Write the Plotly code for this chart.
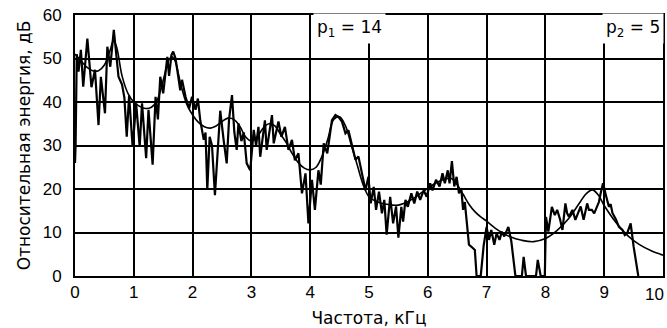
import plotly.graph_objects as go

# Measured short-time spectrum (kHz, dB)
spec_freq = [
    0.00, 0.01, 0.03, 0.06, 0.10, 0.14, 0.21, 0.28, 0.34, 0.40, 0.44, 0.51, 0.55, 0.60,
    0.66, 0.71, 0.74, 0.80, 0.84, 0.88, 0.92, 0.98, 1.04, 1.10, 1.14, 1.21, 1.25, 1.32,
    1.37, 1.41, 1.45, 1.50, 1.57, 1.60, 1.64, 1.67, 1.71, 1.74, 1.79, 1.82, 1.88, 1.94,
    1.99, 2.05, 2.09, 2.13, 2.19, 2.22, 2.25, 2.29, 2.33, 2.38, 2.45, 2.47, 2.53, 2.58,
    2.62, 2.67, 2.71, 2.75, 2.78, 2.83, 2.87, 2.92, 2.98, 3.04, 3.08, 3.12, 3.15, 3.23,
    3.26, 3.35, 3.38, 3.46, 3.51, 3.57, 3.63, 3.69, 3.74, 3.80, 3.86, 3.92, 3.97, 4.03,
    4.08, 4.14, 4.18, 4.23, 4.29, 4.37, 4.43, 4.48, 4.54, 4.60, 4.65, 4.71, 4.77, 4.82,
    4.88, 4.94, 4.99, 5.03, 5.08, 5.12, 5.17, 5.22, 5.26, 5.30, 5.36, 5.41, 5.46, 5.50,
    5.55, 5.58, 5.62, 5.66, 5.72, 5.77, 5.82, 5.87, 5.93, 5.98, 6.04, 6.08, 6.14, 6.20,
    6.25, 6.29, 6.34, 6.37, 6.41, 6.45, 6.49, 6.53, 6.57, 6.60, 6.63, 6.66, 6.70, 6.76,
    6.80, 6.83, 6.90, 6.95, 7.00, 7.04, 7.08, 7.13, 7.17, 7.22, 7.26, 7.30, 7.37, 7.42,
    7.47, 7.49, 7.60, 7.63, 7.67, 7.84, 7.87, 7.92, 7.99, 8.01, 8.05, 8.11, 8.16, 8.20,
    8.25, 8.29, 8.34, 8.37, 8.40, 8.46, 8.51, 8.56, 8.60, 8.65, 8.71, 8.74, 8.79, 8.83,
    8.88, 8.91, 8.94, 8.98, 9.03, 9.08, 9.11, 9.14, 9.20, 9.25, 9.31, 9.35, 9.39, 9.45,
    9.50, 9.56, 9.58,
]
spec_db = [
    26.0, 30.0, 51.0, 47.0, 52.0, 43.5, 54.6, 43.4, 47.4, 34.7, 45.8, 37.4, 52.7, 48.1,
    56.6, 50.4, 45.8, 44.0, 41.0, 32.0, 41.5, 29.7, 39.7, 29.7, 39.7, 27.1, 38.2, 25.6,
    41.2, 36.0, 45.8, 42.0, 50.4, 46.0, 50.8, 51.6, 50.0, 47.3, 42.7, 45.1, 41.2, 38.5,
    41.2, 38.2, 40.8, 35.8, 31.3, 33.0, 19.8, 32.0, 30.0, 18.6, 32.0, 38.0, 31.0, 25.9,
    36.0, 41.6, 33.0, 29.0, 35.1, 31.0, 33.0, 25.9, 24.3, 33.6, 30.0, 34.3, 27.4, 35.8,
    29.0, 37.0, 30.5, 35.5, 32.0, 34.3, 29.0, 31.3, 26.6, 28.2, 19.0, 23.6, 12.1, 22.1,
    15.2, 24.3, 21.0, 30.5, 28.2, 35.8, 37.0, 36.6, 35.5, 32.8, 33.5, 29.7, 26.7, 27.5,
    23.6, 19.7, 22.8, 16.7, 20.5, 15.2, 19.4, 14.4, 17.5, 9.5, 18.2, 12.1, 16.0, 8.8,
    15.9, 12.5, 17.5, 15.9, 19.0, 16.7, 19.4, 17.5, 19.7, 18.2, 21.3, 19.7, 22.1, 20.6,
    23.6, 21.3, 24.3, 21.3, 26.4, 20.6, 22.8, 19.0, 20.0, 15.2, 17.0, 12.1, 7.2, 6.5,
    6.0, 0.0, 0.0, 7.0, 11.3, 8.3, 10.6, 7.2, 9.8, 8.3, 10.2, 9.1, 11.3, 8.0,
    2.0, 0.0, 0.0, 4.4, 0.0, 0.0, 3.7, 0.0, 0.0, 13.6, 10.2, 15.9, 14.0, 15.2,
    13.0, 10.6, 16.7, 14.4, 13.6, 15.2, 12.9, 14.5, 16.0, 12.9, 16.7, 15.2, 15.2, 14.4,
    16.0, 17.0, 19.0, 21.3, 18.5, 15.9, 16.5, 14.5, 13.0, 11.3, 10.6, 9.4, 9.8, 12.1,
    6.8, 1.7, 0.0,
]

# Smooth spectral envelope (kHz, dB)
env_freq = [
    0.0, 0.1, 0.2, 0.3, 0.4, 0.5, 0.6, 0.65, 0.7, 0.8, 0.9, 1.0, 1.1, 1.2, 1.3, 1.4,
    1.5, 1.6, 1.65, 1.7, 1.8, 1.9, 2.0, 2.1, 2.2, 2.3, 2.4, 2.5, 2.6, 2.7, 2.8, 2.9,
    3.0, 3.1, 3.2, 3.3, 3.4, 3.5, 3.6, 3.7, 3.8, 3.9, 4.0, 4.1, 4.2, 4.3, 4.4, 4.5,
    4.6, 4.7, 4.8, 4.9, 5.0, 5.1, 5.2, 5.3, 5.4, 5.5, 5.6, 5.7, 5.8, 5.9, 6.0, 6.1,
    6.2, 6.3, 6.4, 6.5, 6.6, 6.7, 6.8, 6.9, 7.0, 7.2, 7.4, 7.6, 7.8, 8.0, 8.2, 8.4,
    8.6, 8.7, 8.8, 8.9, 9.0, 9.2, 9.4, 9.6, 9.8, 10.0,
]
env_db = [
    51.0, 49.5, 48.0, 47.2, 47.2, 48.5, 52.0, 54.0, 53.0, 46.0, 42.0, 40.0, 39.0, 38.5, 38.8, 40.5,
    45.0, 49.8, 50.4, 49.5, 44.0, 39.5, 37.0, 35.3, 34.3, 34.0, 34.5, 35.5, 36.3, 36.0, 34.5, 32.0,
    31.0, 32.0, 34.0, 35.0, 34.5, 32.5, 30.5, 28.0, 26.0, 24.8, 24.4, 25.0, 27.5, 31.5, 36.0, 36.6,
    34.5, 30.0, 25.5, 21.0, 18.2, 17.3, 16.8, 16.5, 16.3, 16.3, 16.7, 17.4, 18.2, 19.2, 20.2, 21.1,
    21.8, 22.3, 22.4, 21.0, 18.8, 16.5, 14.8, 13.6, 12.6, 10.5, 9.0, 8.2, 7.9, 8.6, 10.5, 13.3,
    17.2, 19.0, 19.8, 18.6, 16.2, 12.3, 9.3, 7.2, 5.8, 4.8,
]

x_ticks = [0, 1, 2, 3, 4, 5, 6, 7, 8, 9, 10]
x_labels = ["0", "1", "2", "3", "4", "5", "6", "7", "8", "9", "10"]
y_ticks = [0, 10, 20, 30, 40, 50, 60]

NUM_FONT = "Liberation Sans, Arial, Helvetica, sans-serif"
TXT_FONT = "DejaVu Sans, Verdana, sans-serif"

fig = go.Figure()
fig.add_trace(go.Scatter(
    x=env_freq, y=env_db, mode="lines",
    line=dict(color="black", width=1.6, shape="spline", smoothing=1.0),
    hoverinfo="skip", showlegend=False,
))
fig.add_trace(go.Scatter(
    x=spec_freq, y=spec_db, mode="lines",
    line=dict(color="black", width=2.2),
    showlegend=False,
))

fig.add_annotation(
    x=4.05, y=57.0, xref="x", yref="y", xanchor="left", yanchor="middle",
    text="p<sub>1</sub> = 14", showarrow=False,
    font=dict(family=TXT_FONT, size=17, color="black"),
    bgcolor="white", borderpad=3,
)
fig.add_annotation(
    x=8.97, y=57.0, xref="x", yref="y", xanchor="left", yanchor="middle",
    text="p<sub>2</sub> = 5", showarrow=False,
    font=dict(family=TXT_FONT, size=17, color="black"),
    bgcolor="white", borderpad=3,
)

# the last frequency label sits flush with the right edge of the page
fig.add_annotation(
    x=1.0, y=0, xref="paper", yref="paper", xanchor="right", yanchor="top",
    xshift=3, yshift=-7, text=x_labels[-1], showarrow=False,
    font=dict(family=NUM_FONT, size=17, color="black"),
)

fig.update_layout(
    width=667, height=328,
    margin=dict(l=75, r=4, t=15, b=52, autoexpand=False),
    paper_bgcolor="white", plot_bgcolor="white",
    font=dict(family=NUM_FONT, color="black"),
    xaxis=dict(
        range=[0, 10], tickvals=x_ticks, ticktext=x_labels[:-1] + [""],
        showgrid=True, gridcolor="black", gridwidth=1.5,
        showline=True, linecolor="black", linewidth=2, mirror=True,
        zeroline=False, ticks="", ticklabelstandoff=0, automargin=False,
        tickfont=dict(size=17, family=NUM_FONT),
        title=dict(text="Частота, кГц", font=dict(size=17, family=TXT_FONT), standoff=16),
    ),
    yaxis=dict(
        range=[0, 60], tickvals=y_ticks, ticktext=[str(v) for v in y_ticks],
        showgrid=True, gridcolor="black", gridwidth=1.5,
        showline=True, linecolor="black", linewidth=2, mirror=True,
        zeroline=False, ticks="", ticklabelstandoff=8, automargin=False,
        tickfont=dict(size=17, family=NUM_FONT),
        title=dict(text="Относительная энергия, дБ", font=dict(size=17, family=TXT_FONT), standoff=8),
    ),
)

fig.write_html("out.html")
